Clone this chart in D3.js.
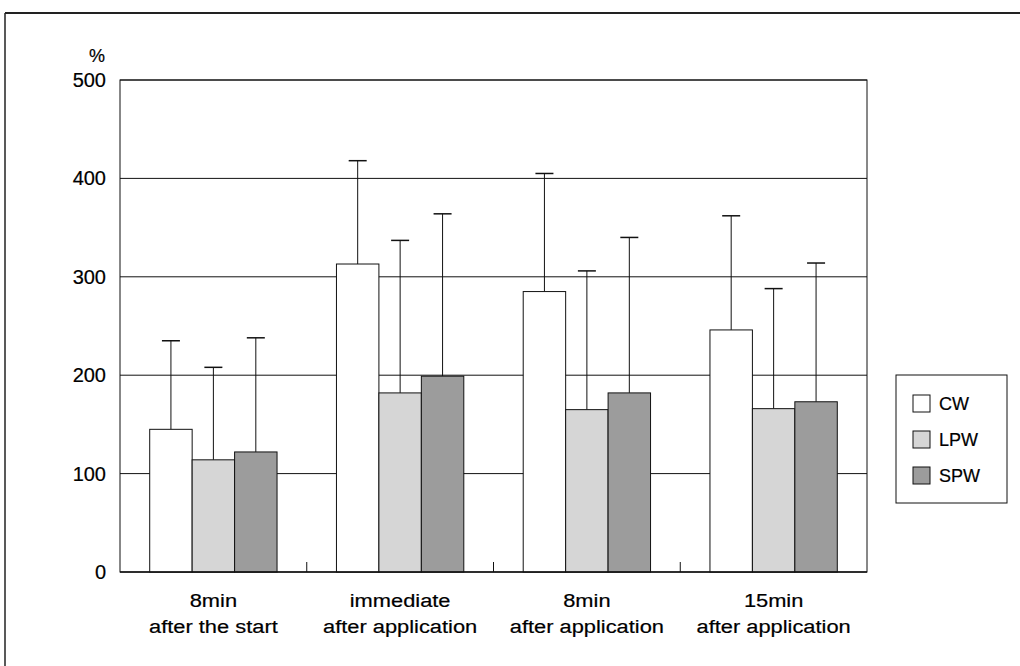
<!DOCTYPE html>
<html>
<head>
<meta charset="utf-8">
<script src="https://cdn.jsdelivr.net/npm/d3@7"></script>
<style>
  body { margin: 0; background: #fff; }
  svg text { font-family: "Liberation Sans", Arial, sans-serif; fill: #000; stroke: #000; stroke-width: 0.2px; }
</style>
</head>
<body>
<svg id="chart" width="1020" height="666"></svg>
<script>
// data
var categories = [["8min", "after the start"], ["immediate", "after application"], ["8min", "after application"], ["15min", "after application"]]
var seriesNames = ["CW", "LPW", "SPW"]
var cwValues  = [145, 313, 285, 246]
var lpwValues = [114, 182, 165, 166]
var spwValues = [122, 199, 182, 173]
var cwErr  = [235, 418, 405, 362]
var lpwErr = [208, 337, 306, 288]
var spwErr = [238, 364, 340, 314]
var yTicks = [0, 100, 200, 300, 400, 500]

var fills = ["#ffffff", "#d6d6d6", "#9c9c9c"]
var values = [cwValues, lpwValues, spwValues]
var errTops = [cwErr, lpwErr, spwErr]

var svg = d3.select("#chart")

// outer frame
svg.append("line").attr("x1", 5).attr("x2", 1020).attr("y1", 13).attr("y2", 13)
  .attr("stroke", "#222").attr("stroke-width", 2)
svg.append("line").attr("x1", 5).attr("x2", 5).attr("y1", 13).attr("y2", 666)
  .attr("stroke", "#222").attr("stroke-width", 1.5)

var plotLeft = 120, plotRight = 867, plotTop = 80, plotBottom = 572

var x0 = d3.scaleBand().domain(d3.range(categories.length)).range([plotLeft, plotRight])
var x1 = d3.scaleBand().domain(d3.range(seriesNames.length))
  .range([0, x0.bandwidth()]).paddingOuter(0.7).paddingInner(0)
var y = d3.scaleLinear().domain([0, 500]).range([plotBottom, plotTop])

// grid lines
svg.append("g").selectAll("line").data(yTicks.slice(1)).enter()
  .append("line")
  .attr("x1", plotLeft).attr("x2", plotRight)
  .attr("y1", function(d) { return y(d) }).attr("y2", function(d) { return y(d) })
  .attr("stroke", "#111").attr("stroke-width", 1)

// plot frame
svg.append("rect").attr("x", plotLeft).attr("y", plotTop)
  .attr("width", plotRight - plotLeft).attr("height", plotBottom - plotTop)
  .attr("fill", "none").attr("stroke", "#111").attr("stroke-width", 1)

// y axis labels
var yAxis = d3.axisLeft(y).tickValues(yTicks).tickSize(0).tickPadding(14)
var gy = svg.append("g").attr("transform", "translate(" + plotLeft + ",0)").call(yAxis)
gy.select(".domain").remove()
gy.selectAll("text").style("font-size", "20px").attr("fill", "#000")
  .style("font-family", "'Liberation Sans', Arial, sans-serif")
svg.append("text").attr("x", 105).attr("y", 62).attr("text-anchor", "end")
  .style("font-size", "18px").text("%")

// bars
var groups = svg.append("g").selectAll("g").data(categories).enter()
  .append("g")
  .attr("transform", function(d, i) { return "translate(" + x0(i) + ",0)" })

groups.each(function(d, gi) {
  var g = d3.select(this)
  seriesNames.forEach(function(s, si) {
    var bx = x1(si), bw = x1.bandwidth(), cx = bx + bw / 2
    g.append("line")
      .attr("x1", cx).attr("x2", cx)
      .attr("y1", y(values[si][gi])).attr("y2", y(errTops[si][gi]))
      .attr("stroke", "#111").attr("stroke-width", 1)
    g.append("line")
      .attr("x1", cx - 9).attr("x2", cx + 9)
      .attr("y1", y(errTops[si][gi])).attr("y2", y(errTops[si][gi]))
      .attr("stroke", "#111").attr("stroke-width", 1.5)
    g.append("rect")
      .attr("x", bx).attr("width", bw)
      .attr("y", y(values[si][gi])).attr("height", plotBottom - y(values[si][gi]))
      .attr("fill", fills[si]).attr("stroke", "#111").attr("stroke-width", 1)
  })
})

// x axis line and ticks between groups
svg.append("line").attr("x1", plotLeft).attr("x2", plotRight).attr("y1", plotBottom).attr("y2", plotBottom)
  .attr("stroke", "#111").attr("stroke-width", 1.5)
svg.append("g").selectAll("line").data(d3.range(1, categories.length)).enter()
  .append("line")
  .attr("x1", function(i) { return x0(i) }).attr("x2", function(i) { return x0(i) })
  .attr("y1", plotBottom).attr("y2", plotBottom - 10)
  .attr("stroke", "#111")

// category labels (slightly stretched, like the scanned original)
var labels = svg.append("g").selectAll("text").data(categories).enter()
  .append("text")
  .attr("text-anchor", "middle")
  .attr("transform", function(d, i) { return "translate(" + (x0(i) + x0.bandwidth() / 2) + ",607) scale(1.15,1)" })
  .style("font-size", "19px")
labels.append("tspan").attr("x", 0).text(function(d) { return d[0] })
labels.append("tspan").attr("x", 0).attr("dy", 26).text(function(d) { return d[1] })

// legend
var legend = svg.append("g").attr("transform", "translate(896,375)")
legend.append("rect").attr("width", 111).attr("height", 128)
  .attr("fill", "#fff").attr("stroke", "#111")
var items = legend.selectAll("g.item").data(seriesNames).enter()
  .append("g").attr("class", "item")
  .attr("transform", function(d, i) { return "translate(17," + (20 + i * 36) + ")" })
items.append("rect").attr("width", 17).attr("height", 17)
  .attr("fill", function(d, i) { return fills[i] }).attr("stroke", "#111")
items.append("text").attr("x", 26).attr("y", 15).style("font-size", "18px").text(function(d) { return d })
</script>
</body>
</html>
